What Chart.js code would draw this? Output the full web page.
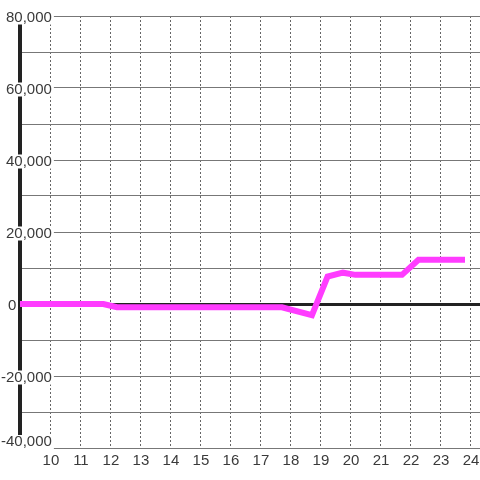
<!DOCTYPE html>
<html lang="en">
<head>
<meta charset="utf-8">
<title>Line</title>
<script src="https://cdn.jsdelivr.net/npm/chart.js@4/dist/chart.umd.min.js"></script>
<style>
  html, body { margin: 0; padding: 0; background: #fff; }
  #wrap { position: relative; width: 480px; height: 480px; }
</style>
</head>
<body>
<div id="wrap"><canvas id="chart"></canvas></div>
<script>
// hours of the day / value
var hours  = [8.97, 11.75, 12.2, 17.7, 18.7, 19.22, 19.73, 20.15, 21.7, 22.25, 23.8];
var values = [0, 0, -900, -900, -3100, 7600, 8700, 8100, 8100, 12300, 12300];
var xTicks = [10, 11, 12, 13, 14, 15, 16, 17, 18, 19, 20, 21, 22, 23, 24];
var yMin = -40000, yMax = 80000, yStep = 10000, yLabelStep = 20000;

var font = { family: "'Liberation Sans', Arial, sans-serif", size: 15 };
var txt = '#3a3a3a';
var backPad = { left: 2, right: 2, top: -2, bottom: -2 };

var pts = [];
for (var i = 0; i < hours.length; i++) pts.push({ x: hours[i], y: values[i] });

function labelled(v) { return v !== 0 && v !== yMin && v % yLabelStep === 0; }
function fmt(v) { return v.toLocaleString('en-US'); }

// extra label-only axis (no grid, no border, zero width)
function labelAxis(value, pad, offset, back) {
  return {
    position: 'left',
    weight: 0,
    min: yMin,
    max: yMax,
    afterBuildTicks: function (s) { s.ticks = [{ value: value }]; },
    afterFit: function (s) { s.width = 0; },
    grid: { display: false, drawTicks: false },
    border: { display: false },
    ticks: {
      mirror: true, crossAlign: 'far', padding: pad, labelOffset: offset,
      color: txt, font: font,
      showLabelBackdrop: back, backdropPadding: backPad, backdropColor: '#fff',
      callback: fmt
    }
  };
}

new Chart(document.getElementById('chart'), {
  type: 'line',
  data: {
    datasets: [{
      data: pts,
      borderColor: '#ff3cff',
      borderWidth: 6,
      borderCapStyle: 'butt',
      pointRadius: 0,
      tension: 0,
      yAxisID: 'y'
    }]
  },
  options: {
    responsive: true,
    maintainAspectRatio: false,
    animation: false,
    layout: { padding: { top: 16, left: 0, right: 0, bottom: 0 } },
    plugins: { legend: { display: false }, tooltip: { enabled: false } },
    scales: {
      x: {
        type: 'linear',
        min: 8.97,
        max: 24.3,
        afterBuildTicks: function (s) { s.ticks = xTicks.map(function (v) { return { value: v }; }); },
        afterFit: function (s) { s.height = 32; s.paddingLeft = 0; s.paddingRight = 0; },
        grid: { color: '#666', lineWidth: 1, drawTicks: false, borderDash: [2, 2] },
        border: { display: false, dash: [2, 2] },
        ticks: { color: txt, font: font, padding: 4, maxRotation: 0, autoSkip: false }
      },
      y: {
        position: 'left',
        weight: 1,
        min: yMin,
        max: yMax,
        afterFit: function (s) { s.width = 20; },
        grid: {
          drawTicks: false,
          color: function (c) { return c.tick && c.tick.value === 0 ? '#222' : '#777'; },
          lineWidth: function (c) { return c.tick && c.tick.value === 0 ? 3 : 1; }
        },
        border: { display: true, color: '#222', width: 4 },
        ticks: {
          stepSize: yStep,
          mirror: true,
          crossAlign: 'far',
          padding: -19,
          labelOffset: 1.5,
          color: txt,
          font: font,
          showLabelBackdrop: true,
          backdropPadding: backPad,
          backdropColor: function (c) {
            return c.tick && labelled(c.tick.value) ? '#fff' : 'rgba(0,0,0,0)';
          },
          callback: function (v) { return labelled(v) ? fmt(v) : ''; }
        }
      },
      yZero: labelAxis(0, -12, 1.5, false),
      yBottom: labelAxis(yMin, -19, -6, true)
    }
  }
});
</script>
</body>
</html>
